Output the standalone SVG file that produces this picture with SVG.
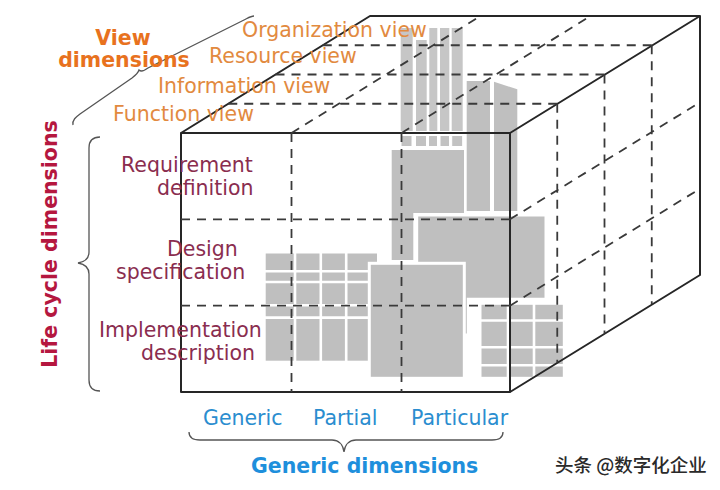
<svg xmlns="http://www.w3.org/2000/svg" width="720" height="490" viewBox="0 0 720 490">
<style>
.edge{stroke:#262626;stroke-width:2;fill:none;stroke-linejoin:round}
.dash{stroke:#3a3a3a;stroke-width:1.8;fill:none;stroke-dasharray:9 7}
.g{fill:#bfbfbf}
.blk{fill:#bfbfbf;stroke:#fff;stroke-width:3}
.bar{fill:#c6c6c6}
.sq{fill:#c2c2c2;stroke:#fff;stroke-width:1}
.grid{stroke:#fff;stroke-width:2.6;fill:none}
.brace{stroke:#555;stroke-width:1.3;fill:none}
.t{font-family:"DejaVu Sans",Verdana,sans-serif;font-size:20.5px}
.view{fill:#e28a3f}
.dimv{fill:#e8721e;font-weight:bold}
.lc{fill:#8a2d4f}
.dimlc{fill:#b5173f;font-weight:bold}
.gen{fill:#2a8dcf}
.dimg{fill:#1e8fdc;font-weight:bold}
</style>
<rect width="720" height="490" fill="#fff"/>
<g id="blocks">
  <rect class="bar" x="400.7" y="28" width="12" height="103"/>
  <rect class="bar" x="416" y="40" width="10.7" height="91"/>
  <rect class="bar" x="429.3" y="28" width="8" height="103"/>
  <rect class="bar" x="440" y="28" width="9.3" height="103"/>
  <rect class="bar" x="451.7" y="28" width="11" height="103"/>
  <rect class="sq" x="401" y="135.5" width="11" height="11"/>
  <rect class="sq" x="415.5" y="135.5" width="11" height="11"/>
  <rect class="sq" x="428.5" y="135.5" width="9" height="11"/>
  <rect class="sq" x="440" y="135.5" width="9.5" height="11"/>
  <rect class="sq" x="451.7" y="135.5" width="11" height="11"/>
  <path class="g" d="M391.7 150H464V213H413.3V260H391.7Z"/>
  <rect class="g" x="466.7" y="81" width="23.3" height="130"/>
  <path class="g" d="M494 81.7L517.3 89.3V211H494Z"/>
  <path class="blk" d="M416.7 215H546V299.3H468.3V335H416.7Z"/>
  <g id="gridE">
    <rect class="g" x="265.7" y="253.5" width="111.3" height="107.2"/>
    <path class="grid" d="M295 253V361M320.8 253V361M346.2 253V361M265 271.3H378M265 282H378M265 305.3H378M265 317.6H378"/>
  </g>
  <rect class="blk" x="369.3" y="263.3" width="95" height="115"/>
  <g id="gridD">
    <rect class="blk" x="480" y="303.3" width="84.3" height="75"/>
    <path class="grid" d="M508 303V379M534 303V379M480 320.5H565M480 347.2H565M480 365.3H565"/>
  </g>
</g>
<g id="cube">
  <rect class="edge" x="181" y="133" width="329" height="259"/>
  <path class="edge" d="M181 133L370 16H700L510 133M700 16V275L510 392"/>
  <path class="dash" d="M291.5 133V392M401.5 133V392M181 219.3H510M181 305.7H510"/>
  <path class="dash" d="M228.25 103.75H557.25M275.5 74.5H604.5M322.75 45.25H651.75M291.5 133L480.5 16M401.5 133L590.5 16"/>
  <path class="dash" d="M557.25 103.75V362.75M604.5 74.5V333.5M651.75 45.25V304.25M510 219.3L700 102.3M510 305.7L700 188.7"/>
</g>
<g id="braces">
  <path class="brace" d="M73 125C72 120 76 117 80 114L132 78C136 75 138 73 139 70C141 72 144 71 148 68L244 20C248 18 251 16 254 16"/>
  <path class="brace" d="M100 137C92 137 89 141 89 148L89 252C89 259 84 262 78 263C84 264 89 267 89 274L89 380C89 387 92 391 100 391"/>
  <path class="brace" d="M189 432C189 438 193 440 200 440L332 440C338 440 343 444 344 452C345 444 350 440 356 440L492 440C499 440 503 437 503 432"/>
</g>
<g id="view-labels" class="t">
  <text class="dimv" x="123" y="45" text-anchor="middle">View</text>
  <text class="dimv" x="124" y="67" text-anchor="middle">dimensions</text>
  <text class="view" x="242" y="37">Organization view</text>
  <text class="view" x="209" y="63">Resource view</text>
  <text class="view" x="158" y="93">Information view</text>
  <text class="view" x="113" y="121">Function view</text>
</g>
<g id="lifecycle-labels" class="t">
  <text class="lc" x="121" y="172">Requirement</text>
  <text class="lc" x="157" y="195">definition</text>
  <text class="lc" x="167" y="256">Design</text>
  <text class="lc" x="116" y="279">specification</text>
  <text class="lc" x="99" y="337">Implementation</text>
  <text class="lc" x="141" y="360">description</text>
  <text class="dimlc" transform="translate(57 244) rotate(-90)" text-anchor="middle">Life cycle dimensions</text>
</g>
<g id="generic-labels" class="t">
  <text class="gen" x="203" y="425">Generic</text>
  <text class="gen" x="313" y="425">Partial</text>
  <text class="gen" x="411" y="425">Particular</text>
  <text class="dimg" x="251" y="473">Generic dimensions</text>
</g>
<text x="555" y="472" font-family="'Noto Sans CJK SC',sans-serif" font-size="18.5" font-weight="500" fill="#2a2a2a">头条 @数字化企业</text>
</svg>
